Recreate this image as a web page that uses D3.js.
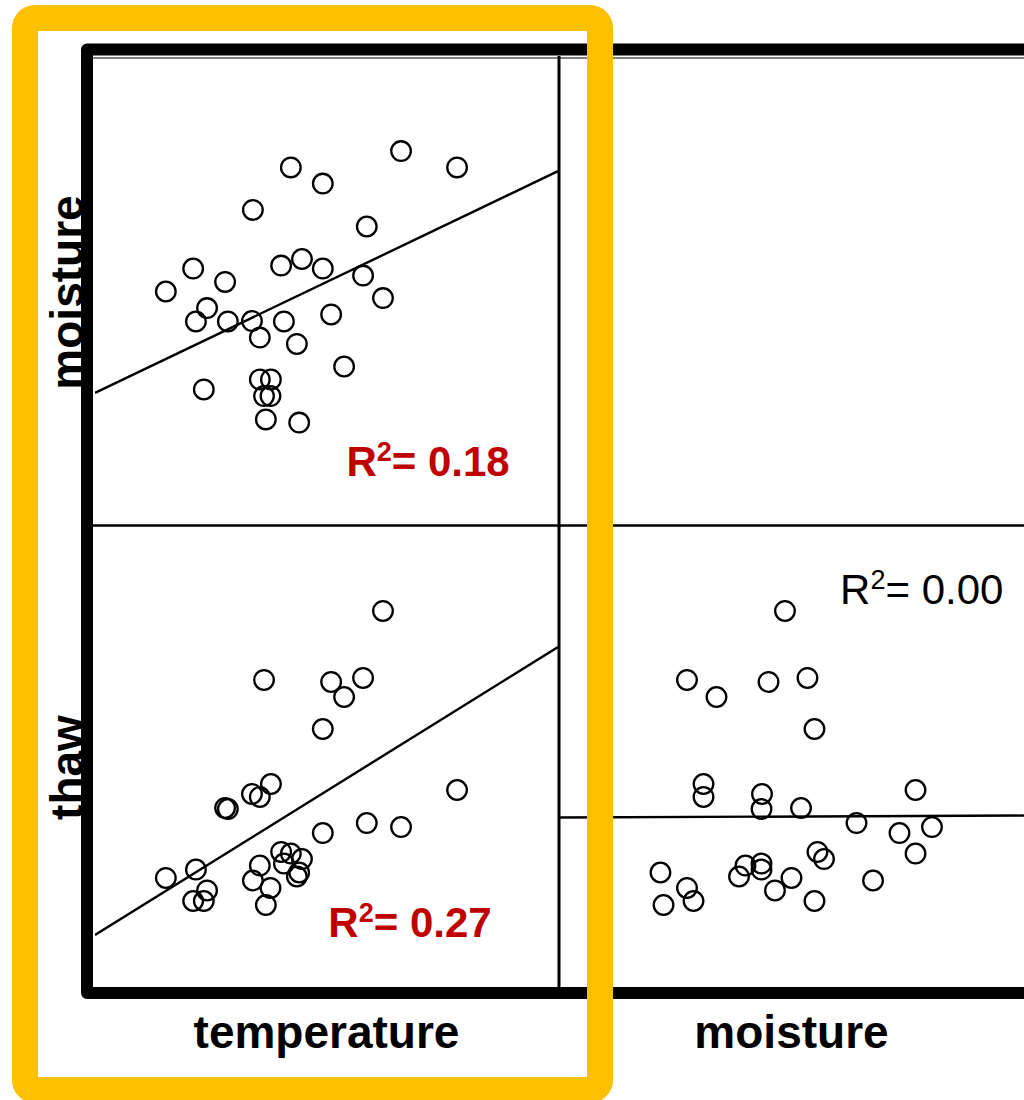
<!DOCTYPE html>
<html>
<head>
<meta charset="utf-8">
<script src="https://cdn.jsdelivr.net/npm/d3@7/dist/d3.min.js"></script>
<style>
  html, body { margin: 0; padding: 0; background: #fff; }
  svg { display: block; }
</style>
</head>
<body>
<svg id="svgContenedor" width="1024" height="1100"></svg>
<script>
// one row per site: temperature (°C), moisture (%), thaw depth (cm)
var temperature = [16.22, 13.65, 15.10, 15.79, 15.38, 14.92, 13.80, 13.39, 13.56, 12.81,
                   12.87, 17.82, 15.87, 16.61, 14.92, 11.53, 12.18, 12.42, 12.12, 12.35,
                   13.56, 13.41, 13.79, 13.69, 14.02, 14.23, 14.47, 14.08, 14.41, 14.36];
var moisture = [24.30, 13.81, 22.54, 26.71, 16.97, 27.46, 15.58, 21.84, 15.58, 26.02,
                21.79, 38.28, 31.96, 40.04, 36.56, 25.00, 21.79, 23.23, 27.46, 14.51,
                20.07, 33.73, 13.81, 11.30, 27.78, 38.28, 28.48, 21.79, 10.97, 19.38];
var thaw = [81.51, 66.67, 66.24, 67.10, 63.01, 56.13, 44.30, 42.15, 41.51, 39.14,
            38.92, 43.01, 35.91, 35.05, 33.76, 24.09, 25.91, 21.40, 19.14, 19.14,
            26.77, 23.55, 21.94, 18.28, 29.68, 29.35, 28.17, 27.20, 25.27, 24.41];

var colVars = ["temperature", "moisture"];
var rowVars = ["moisture", "thaw"];
var r2Labels = ["0.18", "0.27", "0.00"];

var data = { temperature: temperature, moisture: moisture, thaw: thaw };

var svg = d3.select("#svgContenedor");

// scales for the lower triangle of the matrix
var xScales = {
    temperature: d3.scaleLinear().domain([10, 20]).range([95, 558]),
    moisture: d3.scaleLinear().domain([0, 50]).range([558, 1025])
};
var yScales = {
    moisture: d3.scaleLinear().domain([0, 50]).range([525, 58]),
    thaw: d3.scaleLinear().domain([0, 100]).range([990, 525])
};

function fit(xs, ys) {
    var mx = d3.mean(xs), my = d3.mean(ys);
    var sxy = d3.sum(xs, function (x, i) { return (x - mx) * (ys[i] - my); });
    var sxx = d3.sum(xs, function (x) { return (x - mx) * (x - mx); });
    var b = sxy / sxx;
    return { slope: b, intercept: my - b * mx };
}

var panels = [
    { xv: "temperature", yv: "moisture", r2: r2Labels[0], color: "#C00000", weight: "bold", lx: 15.43, ly: 5.2 },
    { xv: "temperature", yv: "thaw", r2: r2Labels[1], color: "#C00000", weight: "bold", lx: 15.04, ly: 11.3 },
    { xv: "moisture", yv: "thaw", r2: r2Labels[2], color: "#000000", weight: "normal", lx: 30.2, ly: 83.0 }
];

panels.forEach(function (p, k) {
    var xs = xScales[p.xv], ys = yScales[p.yv];
    var xv = data[p.xv], yv = data[p.yv];
    var x0 = xs.range()[0], x1 = xs.range()[1];
    var y0 = ys.range()[1], y1 = ys.range()[0];

    svg.append("clipPath")
        .attr("id", "clip" + k)
        .append("rect")
        .attr("x", x0).attr("y", y0)
        .attr("width", x1 - x0).attr("height", y1 - y0);

    var g = svg.append("g").attr("clip-path", "url(#clip" + k + ")");

    var f = fit(xv, yv);
    var dom = xs.domain();
    g.append("line")
        .attr("x1", xs(dom[0]))
        .attr("y1", ys(f.intercept + f.slope * dom[0]))
        .attr("x2", xs(dom[1]))
        .attr("y2", ys(f.intercept + f.slope * dom[1]))
        .attr("stroke", "black")
        .attr("stroke-width", 2.4);

    g.selectAll("circle")
        .data(d3.range(xv.length))
        .enter()
        .append("circle")
        .attr("cx", function (i) { return xs(xv[i]); })
        .attr("cy", function (i) { return ys(yv[i]); })
        .attr("r", 9.8)
        .attr("fill", "none")
        .attr("stroke", "black")
        .attr("stroke-width", 2.3);

    var t = svg.append("text")
        .attr("x", xs(p.lx))
        .attr("y", ys(p.ly))
        .attr("font-family", "'Liberation Sans', Arial, sans-serif")
        .attr("font-size", 42)
        .attr("font-weight", p.weight)
        .attr("fill", p.color);
    t.append("tspan").text("R");
    t.append("tspan").attr("dy", -15).attr("font-size", 27).text("2");
    t.append("tspan").attr("dy", 15).text("= " + p.r2);
});

// panel dividers
svg.append("line")
    .attr("x1", 93).attr("x2", 1024).attr("y1", 58).attr("y2", 58)
    .attr("stroke", "#555").attr("stroke-width", 1.5);
svg.append("line")
    .attr("x1", 93).attr("x2", 1024).attr("y1", 525.5).attr("y2", 525.5)
    .attr("stroke", "black").attr("stroke-width", 2.5);
svg.append("line")
    .attr("x1", 559).attr("x2", 559).attr("y1", 56).attr("y2", 988)
    .attr("stroke", "black").attr("stroke-width", 3);

// thick outer frame
svg.append("path")
    .attr("d", "M1100,49.5 H87 V993 H1100")
    .attr("fill", "none")
    .attr("stroke", "black")
    .attr("stroke-width", 12)
    .attr("stroke-linejoin", "round");

// variable names
var labelFont = "'Liberation Sans', Arial, sans-serif";
colVars.forEach(function (v) {
    var r = xScales[v].range();
    svg.append("text")
        .attr("x", (r[0] + r[1]) / 2)
        .attr("y", 1048)
        .attr("text-anchor", "middle")
        .attr("font-family", labelFont)
        .attr("font-size", 46)
        .attr("font-weight", "bold")
        .text(v);
});
rowVars.forEach(function (v, i) {
    var r = yScales[v].range();
    var cy = (r[0] + r[1]) / 2 + (i === 1 ? 10 : 1);
    svg.append("text")
        .attr("transform", "translate(83," + cy + ") rotate(-90)")
        .attr("text-anchor", "middle")
        .attr("font-family", labelFont)
        .attr("font-size", 46)
        .attr("font-weight", "bold")
        .text(v);
});

// highlight box round the temperature column
svg.append("rect")
    .attr("x", 25)
    .attr("y", 18)
    .attr("width", 575)
    .attr("height", 1072)
    .attr("rx", 10)
    .attr("ry", 10)
    .attr("fill", "none")
    .attr("stroke", "#FFC000")
    .attr("stroke-width", 26);
</script>
</body>
</html>
